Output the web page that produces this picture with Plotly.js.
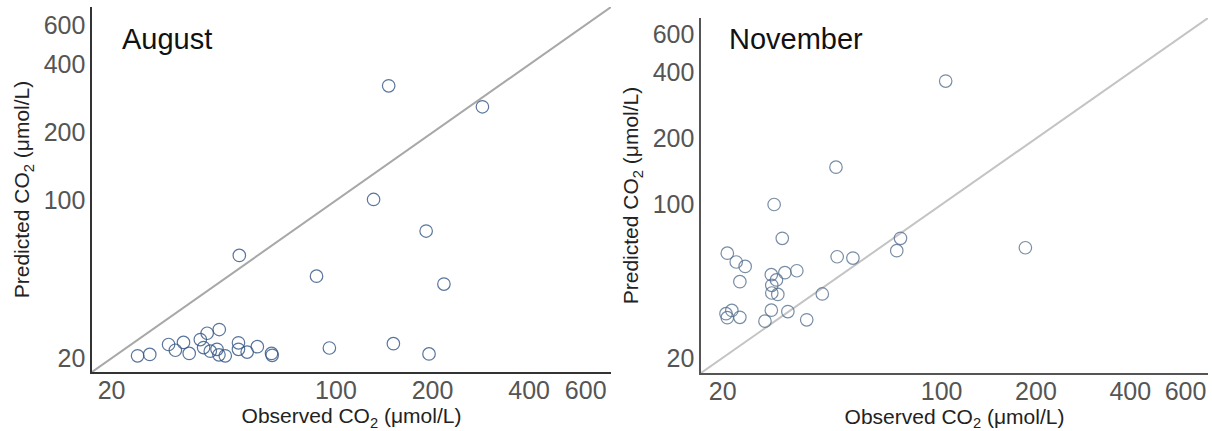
<!DOCTYPE html>
<html>
<head>
<meta charset="utf-8">
<script src="https://cdn.plot.ly/plotly-3.0.1.min.js"></script>
<style>
  html, body { margin: 0; padding: 0; background: #fff; }
  #chart { width: 1212px; height: 431px; }
</style>
</head>
<body>
<div id="chart"></div>
<script>
// August: observed vs predicted CO2 (µmol/L)
const augObserved  = [50, 87, 24.1, 26.3, 30.1, 31.6, 33.5, 34.9, 37.8, 39.7, 38.7, 43.3, 40.6, 42.6, 43.2, 45.2, 49.7, 49.7, 52.9, 56.9, 63, 63.3, 95.4, 146, 286, 131, 191, 217, 151, 195];
const augPredicted = [57.1, 46.2, 20.5, 20.8, 23.0, 21.7, 23.5, 21.0, 24.2, 25.8, 22.3, 26.8, 21.5, 21.9, 20.7, 20.5, 23.4, 21.9, 21.3, 22.5, 21.0, 20.6, 22.2, 322, 260, 101, 73.2, 42.6, 23.2, 20.9];

// November: observed vs predicted CO2 (µmol/L)
const novObserved  = [46, 29.2, 31, 20.7, 22.1, 23.6, 22.7, 28.6, 29.7, 31.6, 34.5, 28.7, 28.7, 30.0, 20.5, 21.4, 20.7, 22.7, 27.3, 28.6, 32.3, 37.1, 41.6, 46.4, 52.1, 71.9, 73.9, 103, 185];
const novPredicted = [148, 100, 70.1, 60, 54.7, 52.2, 44.5, 47.9, 45.3, 48.9, 49.9, 42.8, 39.5, 38.9, 31.8, 32.9, 30.5, 30.6, 29.4, 33.0, 32.5, 29.8, 39.1, 57.8, 57.0, 61.6, 70.1, 365, 63.5];

// 1:1 reference line
const identityLine = [10, 1000];

// Tick values / labels (log axes)
const tickValues = [20, 100, 200, 400, 600];
const tickLabels = ['20', '100', '200', '400', '600'];

const panelLabels = ['August', 'November'];
const xTitle = 'Observed CO<sub>2</sub> (μmol/L)';
const yTitle = 'Predicted CO<sub>2</sub> (μmol/L)';

const FONT = 'Liberation Sans, Arial, Helvetica, sans-serif';

const traces = [
  { x: identityLine, y: identityLine, xaxis: 'x', yaxis: 'y', mode: 'lines',
    line: { color: '#a8a8a8', width: 2 }, hoverinfo: 'skip', showlegend: false },
  { x: augObserved, y: augPredicted, xaxis: 'x', yaxis: 'y', mode: 'markers', type: 'scatter',
    marker: { symbol: 'circle-open', size: 12.5, color: '#2f5282', opacity: 0.8, line: { width: 1.2 } },
    showlegend: false, cliponaxis: false },
  { x: identityLine, y: identityLine, xaxis: 'x2', yaxis: 'y2', mode: 'lines',
    line: { color: '#c4c4c4', width: 2 }, hoverinfo: 'skip', showlegend: false },
  { x: novObserved, y: novPredicted, xaxis: 'x2', yaxis: 'y2', mode: 'markers', type: 'scatter',
    marker: { symbol: 'circle-open', size: 12.5, color: '#56718f', opacity: 0.8, line: { width: 1.2 } },
    showlegend: false, cliponaxis: false }
];

function xAxis(domain, range, lineColor) {
  return {
    type: 'log', domain: domain, range: range,
    showline: true, linecolor: lineColor, linewidth: 1.6,
    showgrid: false, zeroline: false, ticks: '',
    tickvals: tickValues, ticktext: tickLabels,
    ticklabelstandoff: -5,
    tickfont: { family: FONT, size: 25, color: '#555' },
    title: { text: xTitle, font: { family: FONT, size: 21, color: '#222' }, standoff: 6 },
    fixedrange: true
  };
}
function yAxis(domain, range, lineColor) {
  return {
    type: 'log', domain: domain, range: range,
    showline: true, linecolor: lineColor, linewidth: 1.6,
    showgrid: false, zeroline: false, ticks: '',
    tickvals: tickValues, ticktext: tickLabels,
    tickfont: { family: FONT, size: 25, color: '#555' },
    title: { text: yTitle, font: { family: FONT, size: 21, color: '#222' }, standoff: 8 },
    fixedrange: true
  };
}

const W = 1212, H = 431;
const xa = xAxis([92 / W, 611 / W], [1.24, 2.857], '#333');
xa.anchor = 'y';
const ya = yAxis([(H - 372) / H, (H - 7) / H], [1.24, 2.857], '#333');
ya.anchor = 'x';
const xa2 = xAxis([701 / W, 1208 / W], [1.232, 2.85], '#555');
xa2.anchor = 'y2';
const ya2 = yAxis([(H - 373) / H, (H - 18) / H], [1.232, 2.85], '#555');
ya2.anchor = 'x2';

const layout = {
  width: W, height: H,
  margin: { l: 0, r: 0, t: 0, b: 0 },
  paper_bgcolor: '#fff', plot_bgcolor: '#fff',
  font: { family: FONT },
  xaxis: xa, yaxis: ya, xaxis2: xa2, yaxis2: ya2,
  annotations: [
    { text: panelLabels[0], xref: 'paper', yref: 'paper', x: 120 / W, y: 1 - 39 / H,
      xanchor: 'left', yanchor: 'middle', showarrow: false,
      font: { family: FONT, size: 29, color: '#111' } },
    { text: panelLabels[1], xref: 'paper', yref: 'paper', x: 727 / W, y: 1 - 39 / H,
      xanchor: 'left', yanchor: 'middle', showarrow: false,
      font: { family: FONT, size: 29, color: '#111' } }
  ]
};

Plotly.newPlot('chart', traces, layout, { displayModeBar: false, staticPlot: true });
</script>
</body>
</html>
